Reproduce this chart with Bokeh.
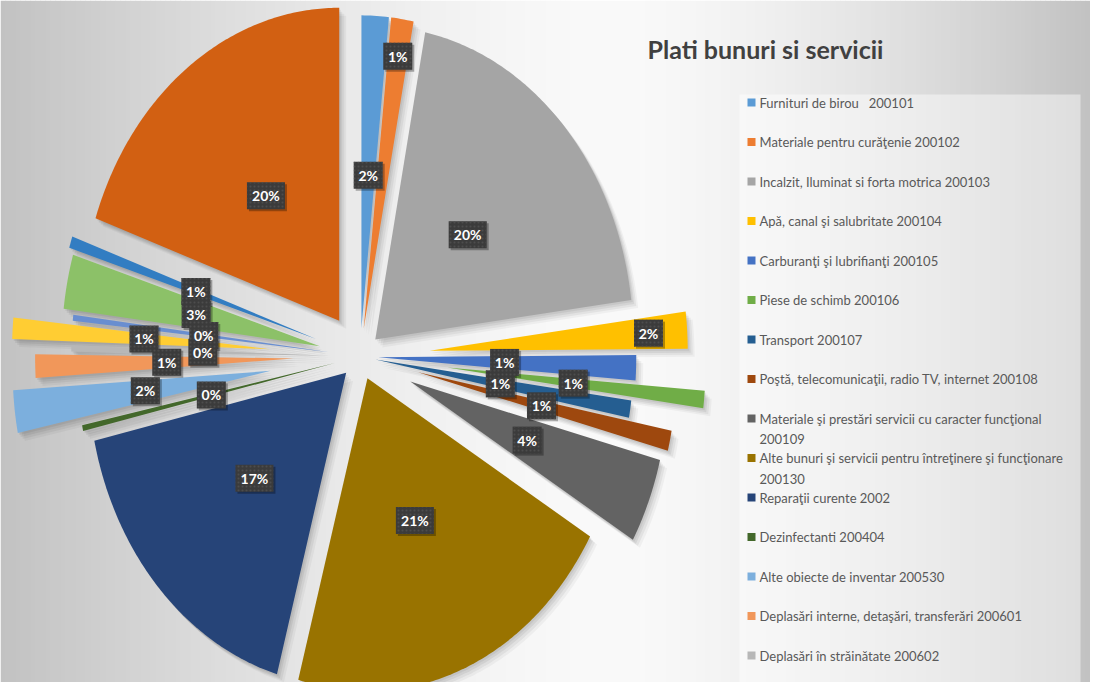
import numpy as np
from bokeh.plotting import figure
from bokeh.models import Range1d, ColumnDataSource
from bokeh.core.properties import value
from bokeh.embed import file_html
from bokeh.resources import INLINE

# ---------------- data ----------------
title = "Plati bunuri si servicii"
categories = [
    "Furnituri de birou\u00a0\u00a0\u00a0200101",
    "Materiale pentru curăţenie 200102",
    "Incalzit, Iluminat si forta motrica 200103",
    "Apă, canal şi salubritate 200104",
    "Carburanţi şi lubrifianţi 200105",
    "Piese de schimb 200106",
    "Transport 200107",
    "Poştă, telecomunicaţii, radio TV, internet 200108",
    "Materiale şi prestări servicii cu caracter funcţional\n200109",
    "Alte bunuri şi servicii pentru întreţinere şi funcţionare\n200130",
    "Reparaţii curente 2002",
    "Dezinfectanti 200404",
    "Alte obiecte de inventar 200530",
    "Deplasări interne, detaşări, transferări 200601",
    "Deplasări în străinătate 200602",
    "", "", "", "", "",
]
shares = [1.7, 1.4, 19.9, 1.9, 1.3, 0.9, 0.9, 1.05, 4.4, 20.9,
          17.2, 0.3, 2.2, 1.2, 0.3, 1.1, 0.3, 2.8, 0.6, 19.7]
colors = ["#5B9BD5", "#ED7D31", "#A5A5A5", "#FFC000", "#4472C4", "#70AD47",
          "#255E91", "#9E480E", "#636363", "#997300", "#264478", "#43682B",
          "#7CAFDD", "#F1975A", "#B7B7B7", "#FFCD33", "#698ED0", "#8CC168",
          "#327DC2", "#D26012"]

# ---------------- layout (not data) ----------------
W, H = 1090, 682
CX, CY = 359.7, 356.0      # pie centre (pixel-like data units, y down)
RX, RY = 258.0, 313.0      # stretched pie radii
explode = [0.09, 0.09, 0.08, 0.27, 0.07, 0.34, 0.06, 0.23, 0.21, 0.075,
           0.075, 0.10, 0.35, 0.26, 0.12, 0.35, 0.12, 0.16, 0.18, 0.14]
label_frac = [0.49] * len(shares)
label_frac[1] = 0.88
label_frac[3] = 0.85

p = figure(width=W, height=H, x_range=Range1d(0, W), y_range=Range1d(H, 0),
           output_backend="svg", toolbar_location=None, min_border=0,
           x_axis_location=None, y_axis_location=None)
p.grid.visible = False
p.outline_line_color = None
p.background_fill_color = "#ffffff"
p.border_fill_color = "#ffffff"

# ---------------- background gradient (horizontal) ----------------
nstrip = 218
edges = np.linspace(0, W, nstrip + 1)
mids = (edges[:-1] + edges[1:]) / 2
peak = 612.0
t = np.where(mids < peak, (peak - mids) / peak, (mids - peak) / (W - peak))
b = 250 - 56 * np.clip(t, 0, 1) ** 1.5
bg_cols = ["#%02x%02x%02x" % (int(v), int(v), int(v)) for v in b]
p.quad(left=edges[:-1], right=edges[1:] + 0.6, top=0, bottom=H,
       fill_color=bg_cols, line_color=None)

# legend backdrop
p.quad(left=739, right=1080, top=94, bottom=682, fill_color="#ffffff",
       fill_alpha=0.45, line_color=None)

# ---------------- pie slices ----------------
total = float(sum(shares))
cum = np.concatenate([[0], np.cumsum(shares)]) / total * 2 * np.pi
xs, ys, lx, ly, labels = [], [], [], [], []
for i, v in enumerate(shares):
    a0, a1 = cum[i], cum[i + 1]
    mid = (a0 + a1) / 2
    ox = CX + explode[i] * RX * np.sin(mid)
    oy = CY - explode[i] * RY * np.cos(mid)
    n = max(4, int((a1 - a0) / (2 * np.pi) * 600))
    ang = np.linspace(a0, a1, n)
    px = np.concatenate([[ox], ox + RX * np.sin(ang)])
    py = np.concatenate([[oy], oy - RY * np.cos(ang)])
    xs.append(px)
    ys.append(py)
    lx.append(ox + label_frac[i] * RX * np.sin(mid))
    ly.append(oy - label_frac[i] * RY * np.cos(mid))
    labels.append("%d%%" % int(np.floor(100 * v / total + 0.5)))

# soft shadows
for dx, dy, al in [(7, 8, 0.04), (5, 6, 0.05), (3, 4, 0.06), (1.5, 2, 0.06)]:
    p.patches([x + dx for x in xs], [y + dy for y in ys], fill_color="#000000",
              fill_alpha=al, line_color=None)
p.patches(xs, ys, fill_color=colors, line_color=None)

# ---------------- data labels ----------------
bw = [9 * len(s) + 11 for s in labels]
src = ColumnDataSource(dict(x=lx, y=ly, w=bw, t=labels,
                            xs=[x + 2 for x in lx], ys=[y + 2 for y in ly]))
p.rect(x="xs", y="ys", width="w", height=27, source=src, fill_color="#000000",
       fill_alpha=0.3, line_color=None)
p.rect(x="x", y="y", width="w", height=27, source=src, fill_color="#3b3b3b",
       line_color=None, hatch_pattern="dot", hatch_color="#4d4d4d",
       hatch_scale=4, hatch_weight=1)
p.text(x="x", y="y", text="t", source=src, text_font=value("Lato"),
       text_font_style="bold", text_font_size="14px", text_color="#ffffff",
       text_align="center", text_baseline="middle")

# ---------------- title ----------------
p.text(x=[647], y=[48], text=[title], text_font=value("Lato"),
       text_font_style="bold", text_font_size="25px", text_color="#404040",
       text_align="left", text_baseline="alphabetic")

# ---------------- legend ----------------
row0, step = 102.0, 39.5
leg_x, leg_y, leg_c = [], [], []
tx, ty, tt = [], [], []
for i, name in enumerate(categories):
    if not name:
        continue
    yc = row0 + i * step
    leg_x.append(751)
    leg_y.append(yc)
    leg_c.append(colors[i])
    for k, line in enumerate(name.split("\n")):
        tx.append(759)
        ty.append(yc + k * 20.5)
        tt.append(line)
p.rect(x=leg_x, y=leg_y, width=8, height=8, fill_color=leg_c, line_color=None)
p.text(x=tx, y=ty, text=tt, text_font=value("Lato"), text_font_size="13px",
       text_color="#595959", text_align="left", text_baseline="middle")

open("out.html", "w").write(file_html(p, INLINE))
